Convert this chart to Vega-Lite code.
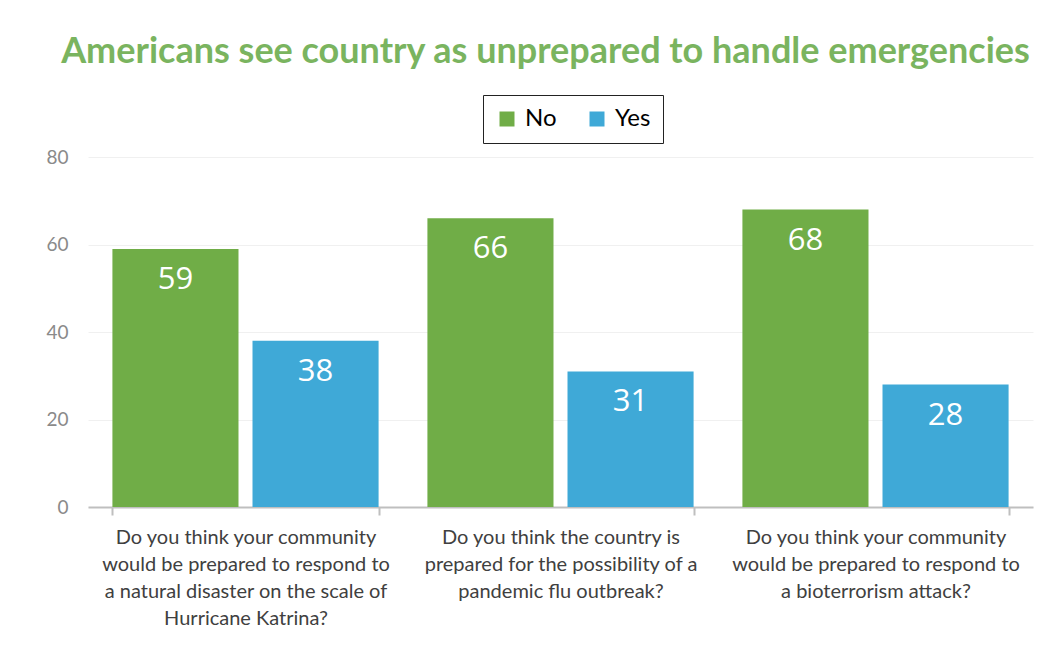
{
  "$schema": "https://vega.github.io/schema/vega-lite/v6.json",
  "width": 945,
  "height": 350,
  "autosize": {"type": "none"},
  "padding": {"left": 88, "top": 157, "right": 27, "bottom": 144},
  "background": "white",
  "title": {
    "text": "Americans see country as unprepared to handle emergencies",
    "font": "Lato",
    "fontSize": 36,
    "fontWeight": "bold",
    "color": "#7ab45f",
    "anchor": "middle",
    "frame": "group",
    "dx": -15,
    "offset": 24
  },
  "data": {
    "values": [
      {"question": "Do you think your community|would be prepared to respond to|a natural disaster on the scale of|Hurricane Katrina?", "answer": "No", "pct": 59},
      {"question": "Do you think your community|would be prepared to respond to|a natural disaster on the scale of|Hurricane Katrina?", "answer": "Yes", "pct": 38},
      {"question": "Do you think the country is|prepared for the possibility of a|pandemic flu outbreak?", "answer": "No", "pct": 66},
      {"question": "Do you think the country is|prepared for the possibility of a|pandemic flu outbreak?", "answer": "Yes", "pct": 31},
      {"question": "Do you think your community|would be prepared to respond to|a bioterrorism attack?", "answer": "No", "pct": 68},
      {"question": "Do you think your community|would be prepared to respond to|a bioterrorism attack?", "answer": "Yes", "pct": 28}
    ]
  },
  "encoding": {
    "x": {
      "field": "question",
      "type": "nominal",
      "sort": null,
      "scale": {"paddingInner": 0.155, "paddingOuter": 0.0775},
      "axis": {
        "title": null,
        "labelAngle": 0,
        "labelExpr": "isValid(datum.value) ? split(datum.value, '|') : ''",
        "labelFont": "Lato",
        "labelFontSize": 20,
        "labelLineHeight": 27,
        "labelColor": "#404040",
        "labelPadding": 12,
        "labelBaseline": "top",
        "tickBand": "extent",
        "ticks": true,
        "tickSize": 8,
        "tickColor": "#bfbfbf",
        "tickWidth": 2,
        "domainColor": "#bfbfbf",
        "domainWidth": 2,
        "labelLimit": 0,
        "grid": false
      }
    },
    "xOffset": {
      "field": "answer",
      "type": "nominal",
      "scale": {"paddingInner": 0.1, "paddingOuter": 0}
    },
    "y": {
      "field": "pct",
      "type": "quantitative",
      "scale": {"domain": [0, 80]},
      "axis": {
        "title": null,
        "values": [0, 20, 40, 60, 80],
        "domain": false,
        "ticks": false,
        "labelFont": "Lato",
        "labelFontSize": 19,
        "labelColor": "#8a8a8a",
        "labelPadding": 20,
        "gridColor": "#f0f0f0",
        "gridWidth": 1
      }
    }
  },
  "layer": [
    {
      "mark": {"type": "bar"},
      "encoding": {
        "color": {
          "field": "answer",
          "type": "nominal",
          "scale": {"domain": ["No", "Yes"], "range": ["#70ad47", "#3fa9d7"]},
          "legend": {
            "title": null,
            "orient": "none",
            "legendX": 395,
            "legendY": -62,
            "direction": "horizontal",
            "strokeColor": "#222222",
            "padding": 12,
            "symbolType": "square",
            "symbolSize": 225,
            "symbolStrokeWidth": 0,
            "symbolOpacity": 1,
            "labelFont": "Lato",
            "labelFontSize": 24,
            "labelColor": "#000000",
            "labelOffset": 6,
            "columnPadding": 28,
            "fillColor": "white"
          }
        }
      }
    },
    {
      "mark": {
        "type": "text",
        "baseline": "middle",
        "align": "center",
        "dy": 31,
        "font": "Open Sans",
        "fontSize": 31,
        "color": "white"
      },
      "encoding": {
        "text": {"field": "pct", "type": "quantitative"}
      }
    }
  ],
  "config": {
    "view": {"stroke": null}
  }
}
